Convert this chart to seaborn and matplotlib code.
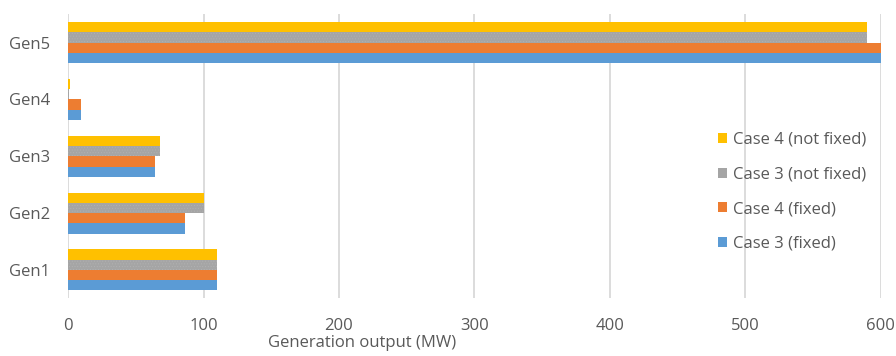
import matplotlib
matplotlib.use("Agg")
import matplotlib.pyplot as plt
import seaborn as sns
import pandas as pd

generators = ["Gen5", "Gen4", "Gen3", "Gen2", "Gen1"]
case4_not_fixed = [590, 1.5, 68, 100, 110]
case3_not_fixed = [590, 0.5, 68, 100, 110]
case4_fixed = [600, 9.5, 64, 86, 110]
case3_fixed = [600, 9.5, 64, 86, 110]

series_names = ["Case 4 (not fixed)", "Case 3 (not fixed)", "Case 4 (fixed)", "Case 3 (fixed)"]
series_values = [case4_not_fixed, case3_not_fixed, case4_fixed, case3_fixed]
series_colors = ["#FFC000", "#A5A5A5", "#ED7D31", "#5B9BD5"]

rows = []
for name, vals in zip(series_names, series_values):
    for g, v in zip(generators, vals):
        rows.append({"Generator": g, "Output": v, "Case": name})
df = pd.DataFrame(rows)

sns.set_theme(style="white")
plt.rcParams["font.family"] = ["Open Sans", "DejaVu Sans"]
plt.rcParams["hatch.linewidth"] = 0.3
text_color = "#595959"

fig, ax = plt.subplots(figsize=(8.96, 3.56), dpi=100)
fig.subplots_adjust(left=0.076, right=0.983, top=0.96, bottom=0.162)

sns.barplot(data=df, y="Generator", x="Output", hue="Case",
            order=generators, hue_order=series_names,
            palette=series_colors, orient="h", width=0.72, gap=0,
            saturation=1, errorbar=None, linewidth=0, ax=ax, zorder=3)

# fine dotted texture on the grey series
for patch in ax.containers[1]:
    patch.set_hatch("......")
    patch.set_edgecolor("#B4B4B4")
    patch.set_linewidth(0)

ax.set_xlim(0, 600)
ax.set_ylim(4.5, -0.5)
ax.set_xticks(range(0, 601, 100))
ax.grid(axis="x", color="#D9D9D9", linewidth=1.3, zorder=0)
ax.grid(axis="y", visible=False)
for side in ["top", "right", "bottom", "left"]:
    ax.spines[side].set_visible(False)
ax.tick_params(axis="both", length=0, colors=text_color, labelsize=12)
ax.tick_params(axis="x", pad=14)
ax.tick_params(axis="y", pad=13)

ax.set_ylabel("")
ax.set_xlabel("Generation output (MW)", color=text_color, fontsize=12)
ax.xaxis.set_label_coords(0.362, -0.13)

handles, labels = ax.get_legend_handles_labels()
leg = ax.legend(handles, labels, loc="center left", bbox_to_anchor=(0.781, 0.375),
                frameon=False, fontsize=12, handlelength=0.55, handleheight=0.55,
                handletextpad=0.35, labelspacing=1.12)
for t in leg.get_texts():
    t.set_color(text_color)

fig.savefig("out.png", dpi=100)
